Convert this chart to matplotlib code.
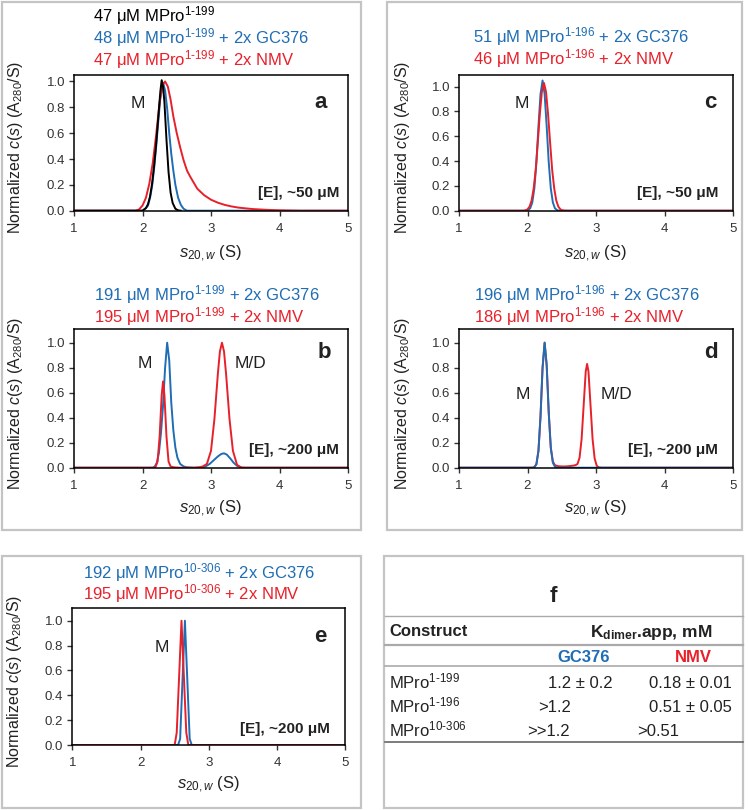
import matplotlib
matplotlib.use("Agg")
import matplotlib.pyplot as plt
from matplotlib.patches import Rectangle
from matplotlib.lines import Line2D

plt.rcParams['font.family'] = ['Liberation Sans', 'DejaVu Sans']
plt.rcParams['mathtext.fontset'] = 'custom'
plt.rcParams['mathtext.rm'] = 'Liberation Sans'
plt.rcParams['mathtext.it'] = 'Liberation Sans:italic'
plt.rcParams['mathtext.bf'] = 'Liberation Sans:bold'

BLUE = '#1f6db4'
RED = '#e8202a'
BLACK = '#000000'

# ---------------- data ----------------
# panel a
s_a_black = [1.0, 2.00, 2.05, 2.08, 2.11, 2.14, 2.17, 2.20, 2.23, 2.26, 2.28, 2.30, 2.32, 2.35, 2.38, 2.41, 2.44, 2.48, 2.52, 2.56]
c_a_black = [0, 0, 0.02, 0.05, 0.11, 0.21, 0.35, 0.52, 0.72, 0.92, 1.01, 0.96, 0.84, 0.55, 0.30, 0.14, 0.06, 0.015, 0.003, 0]
s_a_blue = [1.0, 2.00, 2.05, 2.08, 2.11, 2.14, 2.17, 2.20, 2.23, 2.26, 2.30, 2.33, 2.36, 2.39, 2.42, 2.45, 2.48, 2.52, 2.56, 2.60, 2.65, 5.0]
c_a_blue = [0, 0, 0.02, 0.04, 0.10, 0.19, 0.33, 0.50, 0.69, 0.87, 0.99, 0.93, 0.79, 0.60, 0.44, 0.31, 0.20, 0.10, 0.045, 0.015, 0, 0]
s_a_red = [1.0, 1.90, 1.95, 2.00, 2.05, 2.10, 2.15, 2.20, 2.25, 2.29, 2.33, 2.37, 2.41, 2.45, 2.50, 2.55, 2.60, 2.65, 2.70,
           2.80, 2.90, 3.00, 3.10, 3.20, 3.30, 3.40, 3.60, 3.80, 4.00, 4.30, 5.0]
c_a_red = [0, 0, 0.01, 0.04, 0.10, 0.21, 0.37, 0.59, 0.84, 0.97, 1.0, 0.96, 0.86, 0.73, 0.60, 0.49, 0.39, 0.31, 0.26,
           0.17, 0.12, 0.085, 0.062, 0.045, 0.033, 0.024, 0.013, 0.007, 0.003, 0.0, 0.0]

# panel b
s_b_blue = [1.0, 2.15, 2.18, 2.21, 2.24, 2.27, 2.30, 2.33, 2.36, 2.39, 2.42, 2.45, 2.48, 2.51, 2.55, 2.60, 2.65, 2.75,
            2.85, 2.92, 2.98, 3.04, 3.10, 3.15, 3.19, 3.23, 3.28, 3.33, 3.38, 3.45, 5.0]
c_b_blue = [0, 0, 0.01, 0.04, 0.12, 0.28, 0.50, 0.80, 1.0, 0.86, 0.52, 0.30, 0.16, 0.08, 0.03, 0.01, 0.003, 0,
            0, 0.01, 0.03, 0.06, 0.09, 0.11, 0.115, 0.105, 0.075, 0.04, 0.015, 0, 0]
s_b_red = [1.0, 2.16, 2.19, 2.22, 2.25, 2.28, 2.30, 2.32, 2.35, 2.38, 2.41, 2.44, 2.48, 2.55, 2.65, 2.75, 2.82, 2.88,
           2.94, 3.00, 3.05, 3.10, 3.13, 3.16, 3.19, 3.22, 3.27, 3.32, 3.38, 3.44, 3.50, 5.0]
c_b_red = [0, 0, 0.005, 0.05, 0.25, 0.58, 0.69, 0.58, 0.25, 0.05, 0.01, 0.005, 0.002, 0, 0, 0, 0.003, 0.01,
           0.03, 0.135, 0.39, 0.75, 0.93, 1.0, 0.93, 0.75, 0.39, 0.135, 0.023, 0.002, 0, 0]

# panel c
s_c_blue = [1.0, 1.98, 2.01, 2.04, 2.07, 2.10, 2.13, 2.16, 2.19, 2.22, 2.25, 2.28, 2.31, 2.34, 2.37, 2.40, 2.43, 2.46, 5.0]
c_c_blue = [0, 0, 0.005, 0.02, 0.067, 0.18, 0.39, 0.68, 0.94, 1.05, 0.94, 0.68, 0.39, 0.18, 0.067, 0.02, 0.005, 0, 0]
s_c_red = [1.0, 1.94, 1.97, 2.00, 2.03, 2.06, 2.09, 2.12, 2.15, 2.18, 2.21, 2.24, 2.27, 2.30, 2.33, 2.36, 2.39, 2.42,
           2.45, 2.48, 2.51, 2.54, 2.58, 5.0]
c_c_red = [0, 0, 0.003, 0.011, 0.033, 0.082, 0.18, 0.33, 0.55, 0.78, 0.96, 1.03, 0.96, 0.78, 0.55, 0.33, 0.18, 0.082,
           0.033, 0.011, 0.003, 0.001, 0, 0]

# panel d
s_d_blue = [1.0, 2.07, 2.10, 2.13, 2.16, 2.19, 2.22, 2.25, 2.28, 2.31, 2.34, 2.37, 2.40, 2.44, 5.0]
c_d_blue = [0, 0, 0.004, 0.028, 0.135, 0.41, 0.80, 1.0, 0.82, 0.44, 0.16, 0.04, 0.008, 0, 0]
s_d_red = [1.0, 2.07, 2.10, 2.13, 2.16, 2.19, 2.22, 2.25, 2.28, 2.31, 2.34, 2.37, 2.40, 2.45, 2.50, 2.55, 2.60, 2.65,
           2.70, 2.73, 2.76, 2.79, 2.82, 2.85, 2.87, 2.89, 2.92, 2.95, 2.98, 3.01, 3.04, 3.08, 5.0]
c_d_red = [0, 0, 0.004, 0.028, 0.135, 0.41, 0.80, 1.0, 0.82, 0.44, 0.16, 0.05, 0.02, 0.012, 0.01, 0.01, 0.012, 0.015,
           0.02, 0.03, 0.08, 0.23, 0.50, 0.77, 0.83, 0.77, 0.50, 0.23, 0.074, 0.016, 0.003, 0, 0]

# panel e
s_e_blue = [1.0, 2.55, 2.58, 2.65, 2.72, 2.75, 5.0]
c_e_blue = [0, 0, 0.05, 1.0, 0.05, 0, 0]
s_e_red = [1.0, 2.50, 2.53, 2.60, 2.67, 2.70, 5.0]
c_e_red = [0, 0, 0.1, 1.0, 0.1, 0, 0]

x_ticks = [1, 2, 3, 4, 5]
y_ticks = [0.0, 0.2, 0.4, 0.6, 0.8, 1.0]

# table
table_rows = ['MPro$^{1\\text{-}199}$', 'MPro$^{1\\text{-}196}$', 'MPro$^{10\\text{-}306}$']
table_gc = ['1.2 ± 0.2', '>1.2', '>>1.2']
table_nmv = ['0.18 ± 0.01', '0.51 ± 0.05', '>0.51']

# ---------------- figure ----------------
W, H = 748, 810
fig = plt.figure(figsize=(W / 100, H / 100), dpi=100)


def fx(x):
    return x / W


def fy(y):
    return 1 - y / H


def box(x0, y0, x1, y1):
    fig.patches.append(Rectangle((fx(x0), fy(y1)), fx(x1) - fx(x0), fy(y0) - fy(y1),
                                 transform=fig.transFigure, fill=False,
                                 edgecolor='#c4c4c4', linewidth=1.6, zorder=0))


box(2, 2, 361, 530)
box(387, 2, 742, 530)
box(2, 556, 361, 808)
box(384, 556, 743, 808)

YLABEL = r"Normalized $\mathit{c(s)}$ (A$_{\mathrm{280}}$/S)"
XLABEL = r"$\mathit{s}_{\mathit{20,w}}$ (S)"
TXT = '#222222'


def make_axes(left, right, top, bottom, ytop, curves, ylab_x, xlab_y):
    ax = fig.add_axes([fx(left), fy(bottom), fx(right) - fx(left), fy(top) - fy(bottom)])
    for s, c, col in curves:
        ax.plot(s, c, color=col, lw=1.4, solid_joinstyle='round')
    ax.set_xlim(1, 5)
    ax.set_ylim(0, ytop)
    ax.set_xticks(x_ticks)
    ax.set_yticks(y_ticks)
    ax.set_xticklabels([str(v) for v in x_ticks])
    ax.set_yticklabels(['%.1f' % v for v in y_ticks])
    for sp in ax.spines.values():
        sp.set_linewidth(1.1)
        sp.set_color('black')
    ax.tick_params(direction='out', length=3.5, width=1.0, labelsize=9.5,
                   labelcolor='#333333', colors='#333333')
    ax.tick_params(axis='x', pad=5)
    ax.tick_params(axis='y', pad=3)
    fig.text(fx(ylab_x), fy((top + bottom) / 2 + 5), YLABEL, rotation=90,
             ha='center', va='center', fontsize=11.5, color=TXT)
    fig.text(fx((left + right) / 2), fy(xlab_y), XLABEL, ha='center', va='center',
             fontsize=12, color=TXT)
    return ax


def title_lines(x, lines):
    for y, txt, col in lines:
        fig.text(fx(x), fy(y), txt, ha='left', va='baseline', fontsize=12, color=col)


def ann(ax, x, y, txt, **kw):
    fig.text(fx(x), fy(y), txt, ha=kw.pop('ha', 'center'), va=kw.pop('va', 'center'), **kw)


MS = 12.5   # "M" labels
LS = 16     # panel letters
ES = 11     # [E] notes

# panel a
ax_a = make_axes(74, 348, 75, 210.7, 1.05,
                 [(s_a_blue, c_a_blue, BLUE), (s_a_red, c_a_red, RED), (s_a_black, c_a_black, BLACK)],
                 16, 254)
title_lines(93, [(21, "47 μM MPro$^{1\\text{-}199}$", BLACK),
                 (43.5, "48 μM MPro$^{1\\text{-}199}$ + 2x GC376", BLUE),
                 (65.5, "47 μM MPro$^{1\\text{-}199}$ + 2x NMV", RED)])
ann(ax_a, 138, 103, "M", fontsize=MS, color=TXT)
ann(ax_a, 321, 102, "a", fontsize=LS, fontweight='bold', color=TXT)
ann(ax_a, 339, 193, "[E], ~50 μM", fontsize=ES, fontweight='bold', ha='right', color=TXT)

# panel b
ax_b = make_axes(74, 348, 329.3, 467.7, 1.107,
                 [(s_b_blue, c_b_blue, BLUE), (s_b_red, c_b_red, RED)],
                 16, 509)
title_lines(94, [(300, "191 μM MPro$^{1\\text{-}199}$ + 2x GC376", BLUE),
                 (322, "195 μM MPro$^{1\\text{-}199}$ + 2x NMV", RED)])
ann(ax_b, 145, 363, "M", fontsize=MS, color=TXT)
ann(ax_b, 251, 363, "M/D", fontsize=MS, color=TXT)
ann(ax_b, 324, 353, "b", fontsize=LS, fontweight='bold', color=TXT)
ann(ax_b, 339, 450, "[E], ~200 μM", fontsize=ES, fontweight='bold', ha='right', color=TXT)

# panel c
ax_c = make_axes(459, 733, 75, 210.7, 1.094,
                 [(s_c_blue, c_c_blue, BLUE), (s_c_red, c_c_red, RED)],
                 402, 254)
title_lines(473, [(42.5, "51 μM MPro$^{1\\text{-}196}$ + 2x GC376", BLUE),
                  (64.5, "46 μM MPro$^{1\\text{-}196}$ + 2x NMV", RED)])
ann(ax_c, 522, 103, "M", fontsize=MS, color=TXT)
ann(ax_c, 710, 102, "c", fontsize=LS, fontweight='bold', color=TXT)
ann(ax_c, 718, 193, "[E], ~50 μM", fontsize=ES, fontweight='bold', ha='right', color=TXT)

# panel d
ax_d = make_axes(459, 733, 329.3, 467.7, 1.107,
                 [(s_d_red, c_d_red, RED), (s_d_blue, c_d_blue, BLUE)],
                 402, 509)
title_lines(474, [(300, "196 μM MPro$^{1\\text{-}196}$ + 2x GC376", BLUE),
                  (322, "186 μM MPro$^{1\\text{-}196}$ + 2x NMV", RED)])
ann(ax_d, 523, 395, "M", fontsize=MS, color=TXT)
ann(ax_d, 616, 395, "M/D", fontsize=MS, color=TXT)
ann(ax_d, 711, 353, "d", fontsize=LS, fontweight='bold', color=TXT)
ann(ax_d, 718, 450, "[E], ~200 μM", fontsize=ES, fontweight='bold', ha='right', color=TXT)

# panel e
ax_e = make_axes(72.3, 345.3, 608.3, 745, 1.10,
                 [(s_e_blue, c_e_blue, BLUE), (s_e_red, c_e_red, RED)],
                 15, 785)
title_lines(83, [(578.5, "192 μM MPro$^{10\\text{-}306}$ + 2x GC376", BLUE),
                 (599.5, "195 μM MPro$^{10\\text{-}306}$ + 2x NMV", RED)])
ann(ax_e, 162, 647, "M", fontsize=MS, color=TXT)
ann(ax_e, 320, 636, "e", fontsize=LS, fontweight='bold', color=TXT)
ann(ax_e, 330, 729, "[E], ~200 μM", fontsize=ES, fontweight='bold', ha='right', color=TXT)

# panel f (table)
fig.text(fx(553), fy(597), "f", ha='center', va='center', fontsize=LS, fontweight='bold', color=TXT)
for yy, col, lw in [(616, '#aaaaaa', 1.0), (645, '#aaaaaa', 1.6), (666, '#aaaaaa', 1.2), (742, '#666666', 1.2)]:
    fig.lines.append(Line2D([fx(385), fx(743)], [fy(yy), fy(yy)], transform=fig.transFigure,
                            color=col, lw=lw))
fig.text(fx(389), fy(632), "Construct", ha='left', va='center', fontsize=12, fontweight='bold',
         color=TXT)
fig.text(fx(651), fy(632), r"K$_{\mathbf{dimer}}$.app, mM", ha='center', va='center', fontsize=12.5,
         fontweight='bold', color=TXT)
fig.text(fx(584), fy(657), "GC376", ha='center', va='center', fontsize=12, fontweight='bold', color=BLUE)
fig.text(fx(693), fy(657), "NMV", ha='center', va='center', fontsize=12, fontweight='bold', color=RED)
row_y = [681, 705, 729]
gc_x = [580, 555, 548]
nmv_x = [690, 690, 658]
for i in range(3):
    fig.text(fx(389), fy(row_y[i]), table_rows[i], ha='left', va='center', fontsize=12, color=TXT)
    fig.text(fx(gc_x[i]), fy(row_y[i] + 3), table_gc[i], ha='center', va='center', fontsize=12, color=TXT)
    fig.text(fx(nmv_x[i]), fy(row_y[i] + 3), table_nmv[i], ha='center', va='center', fontsize=12, color=TXT)

fig.savefig("out.png", dpi=100)
